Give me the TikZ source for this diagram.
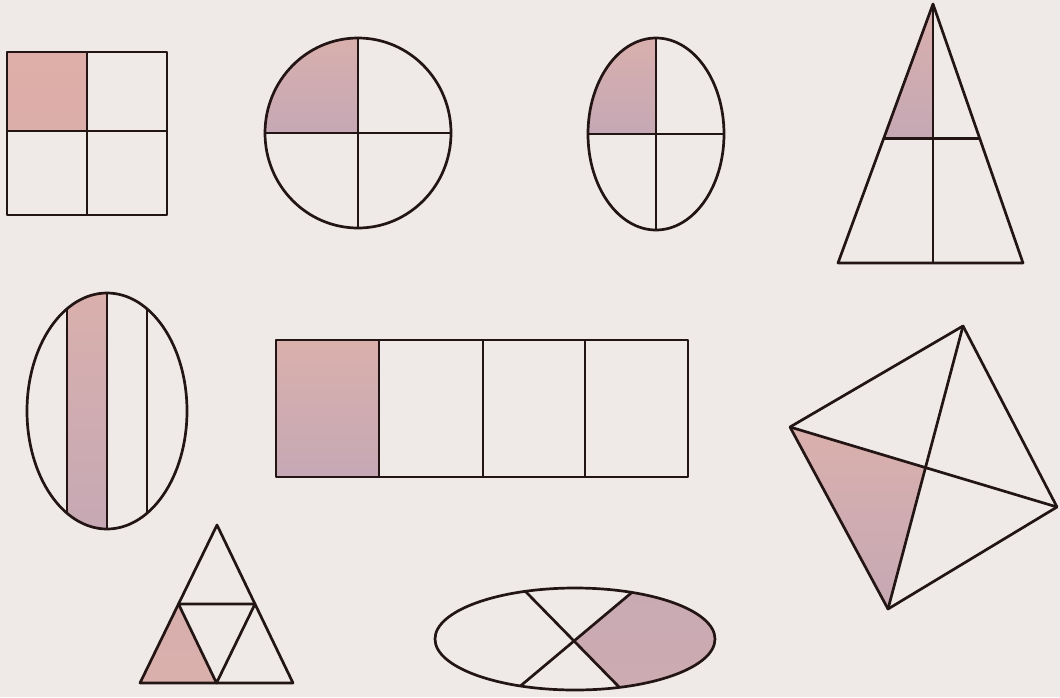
\documentclass[tikz,border=0pt]{standalone}
\usetikzlibrary{calc}
\definecolor{paper}{HTML}{EFEAE8}
\definecolor{ink}{HTML}{221514}
\definecolor{pinkA}{HTML}{DAB0AC}
\definecolor{mauveB}{HTML}{C5A8B5}
\definecolor{pinkS}{HTML}{DEAEA8}
\begin{document}
\begin{tikzpicture}[x=1pt,y=-1pt,
  outline/.style={draw=ink, line width=2.7pt, line join=round},
  part/.style={top color=pinkA, bottom color=mauveB, draw=none}]
\fill[paper] (0,0) rectangle (1060,697);
\useasboundingbox (0,0) rectangle (1060,697);

% 1. square in quarters
\coordinate (sqTL) at (7,52);
\coordinate (sqBR) at (167,215);
\coordinate (sqM) at (87,131);
\fill[part,top color=pinkS, bottom color=pinkS!92!mauveB] (sqTL) rectangle (sqM);
\draw[outline] (sqTL) rectangle (sqBR);
\draw[outline] (sqM|-sqTL) -- (sqM|-sqBR) (sqTL|-sqM) -- (sqBR|-sqM);

% 2. circle in quarters
\coordinate (ciC) at (358,133);
\begin{scope}
  \clip (ciC) ellipse [x radius=93pt, y radius=95pt];
  \fill[part] (250,30) rectangle (ciC);
\end{scope}
\draw[outline] (ciC) ellipse [x radius=93pt, y radius=95pt];
\draw[outline] (358,38) -- (358,228) (265,133) -- (451,133);

% 3. upright ellipse in quarters
\coordinate (e1C) at (656,134);
\begin{scope}
  \clip (e1C) ellipse [x radius=68pt, y radius=96pt];
  \fill[part] (580,30) rectangle (e1C);
\end{scope}
\draw[outline] (e1C) ellipse [x radius=68pt, y radius=96pt];
\draw[outline] (656,38) -- (656,230) (588,134) -- (724,134);

% 4. tall triangle
\coordinate (trA) at (933,4);
\coordinate (trL) at (838,263);
\coordinate (trR) at (1023,263);
\coordinate (trML) at ($(trA)!0.519!(trL)$);
\coordinate (trMR) at ($(trA)!0.519!(trR)$);
\coordinate (trMB) at (933,263);
\coordinate (trX) at (trA|-trML);
\fill[part] (trA) -- (trML) -- (trX) -- cycle;
\draw[outline] (trA) -- (trL) -- (trR) -- cycle;
\draw[outline] (trA) -- (trMB) (trML) -- (trMR);

% 5. tall ellipse with strips
\coordinate (e2C) at (107,411);
\begin{scope}
  \clip (e2C) ellipse [x radius=80pt, y radius=118pt];
  \fill[part] (67,285) rectangle (107,540);
  \draw[outline] (67,285) -- (67,540) (107,285) -- (107,540) (147,285) -- (147,540);
\end{scope}
\draw[outline] (e2C) ellipse [x radius=80pt, y radius=118pt];

% 6. long rectangle in four
\coordinate (reTL) at (276,340);
\coordinate (reBR) at (688,477);
\fill[part] (reTL) rectangle (379,477);
\draw[outline] (reTL) rectangle (reBR);
\draw[outline] (379,340) -- (379,477) (483,340) -- (483,477) (585,340) -- (585,477);

% 7. quadrilateral with diagonals
\coordinate (qT) at (963,326);
\coordinate (qL) at (790,427);
\coordinate (qR) at (1057,507);
\coordinate (qB) at (888,609);
\coordinate (qC) at (intersection of qT--qB and qL--qR);
\fill[part] (qL) -- (qB) -- (qC) -- cycle;
\draw[outline] (qT) -- (qR) -- (qB) -- (qL) -- cycle;
\draw[outline] (qT) -- (qB) (qL) -- (qR);

% 8. small triangle in four
\coordinate (stA) at (217,525);
\coordinate (stL) at (140,683);
\coordinate (stR) at (293,683);
\coordinate (stML) at ($(stA)!0.5!(stL)$);
\coordinate (stMR) at ($(stA)!0.5!(stR)$);
\coordinate (stMB) at ($(stL)!0.5!(stR)$);
\fill[part,top color=pinkA!85!mauveB, bottom color=pinkA] (stL) -- (stML) -- (stMB) -- cycle;
\draw[outline] (stA) -- (stL) -- (stR) -- cycle;
\draw[outline] (stML) -- (stMR) -- (stMB) -- cycle;

% 9. wide ellipse with crossing lines
\coordinate (e3C) at (575,639);
\coordinate (a1) at (527,593);
\coordinate (a2) at (622,690);
\coordinate (b1) at (630,594);
\coordinate (b2) at (518,688);
\coordinate (e3X) at (intersection of a1--a2 and b1--b2);
\begin{scope}
  \clip (e3C) ellipse [x radius=140pt, y radius=51pt];
  \fill[part,top color=mauveB!85!pinkA, bottom color=mauveB!60!pinkA]
    (e3X) -- ($(a1)!1.3!(a2)$) -- (740,720) -- (740,560) -- ($(b2)!1.3!(b1)$) -- cycle;
  \draw[outline] ($(a2)!1.3!(a1)$) -- ($(a1)!1.3!(a2)$)
                 ($(b2)!1.3!(b1)$) -- ($(b1)!1.3!(b2)$);
\end{scope}
\draw[outline] (e3C) ellipse [x radius=140pt, y radius=51pt];
\end{tikzpicture}
\end{document}
